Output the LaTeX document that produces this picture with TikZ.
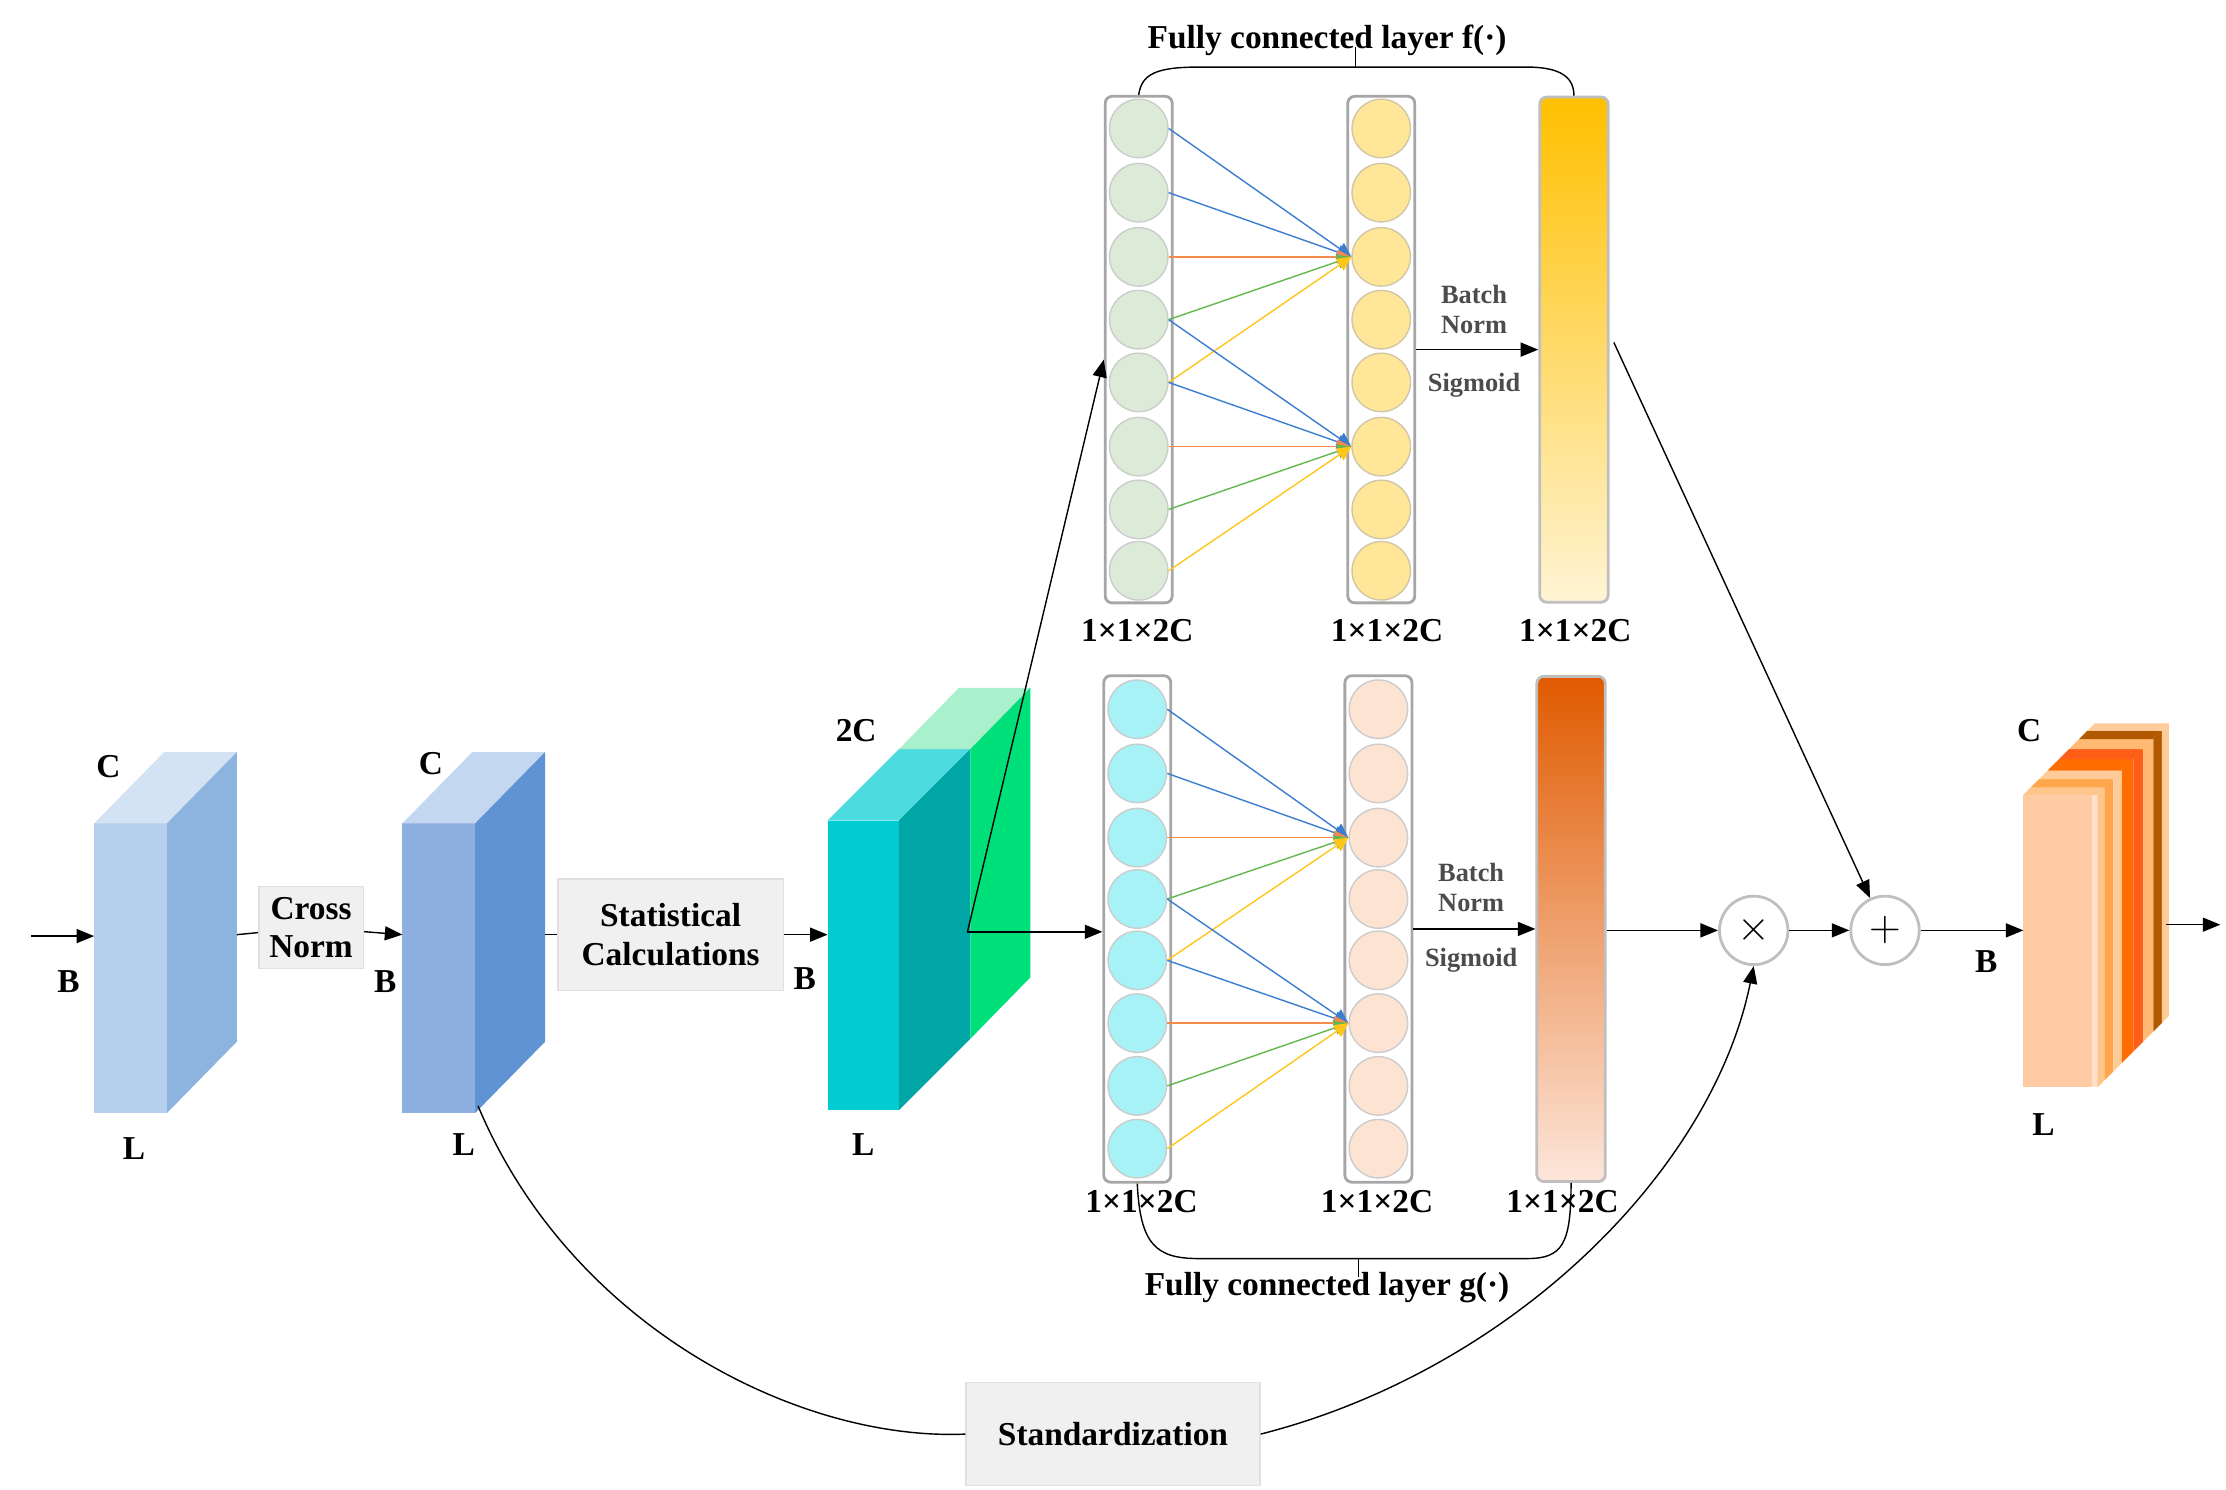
\documentclass[tikz,border=0pt]{standalone}
\usepackage{fontspec}
\setmainfont{Liberation Serif}
\usetikzlibrary{arrows.meta, positioning, calc}
\definecolor{inblue}{HTML}{B4D0EC}
\definecolor{inblueside}{HTML}{8DB4DF}
\definecolor{inbluetop}{HTML}{D3E3F4}
\definecolor{cnblue}{HTML}{8EB0E0}
\definecolor{cnblueside}{HTML}{5F93D3}
\definecolor{cnbluetop}{HTML}{C4D7F0}
\definecolor{stcyan}{HTML}{00CCD2}
\definecolor{stteal}{HTML}{00A6A6}
\definecolor{stgreen}{HTML}{00E07A}
\definecolor{stgreenlt}{HTML}{A9F0CC}
\definecolor{nodegreen}{HTML}{DCEBD8}
\definecolor{nodeyellow}{HTML}{FFE699}
\definecolor{nodecyan}{HTML}{A6F2F6}
\definecolor{nodepeach}{HTML}{FDE3D2}
\definecolor{lnblue}{HTML}{3C7DD0}
\definecolor{lnorange}{HTML}{F58A4B}
\definecolor{lngreen}{HTML}{62B84E}
\definecolor{lnyellow}{HTML}{FFC61A}
\definecolor{outpeach}{HTML}{FFCBA4}
\definecolor{fbartop}{HTML}{FFC000}
\definecolor{fbarbot}{HTML}{FFF4D4}
\definecolor{gbartop}{HTML}{E05A00}
\definecolor{gbarbot}{HTML}{FDE6DA}
\newcommand\pxu{0.01427cm}

\begin{document}
\begin{tikzpicture}[x=0.01427cm, y=-0.01427cm,
        lbl/.style={font=\fontsize{9.5}{10}\selectfont\bfseries, inner sep=1pt},
        small/.style={font=\fontsize{7.5}{8.5}\selectfont\bfseries, text=black!70, align=center, inner sep=1pt},
        graybox/.style={draw=black!12, fill=black!6, font=\fontsize{9.5}{11}\selectfont\bfseries, align=center},
        column/.style={draw=black!35, thick, rounded corners=2pt, minimum width=47*\pxu, minimum height=355*\pxu, inner sep=0},
        neuron/.style={circle, draw=black!20, minimum size=41*\pxu, inner sep=0},
        bar/.style={draw=black!25, thick, rounded corners=2pt, minimum width=48*\pxu, minimum height=354*\pxu, inner sep=0},
        op/.style={circle, draw=black!25, thick, fill=white, minimum size=48*\pxu, inner sep=0, font=\large},
        arr/.style={-{Triangle[length=5pt, width=4pt]}, thin},
        fc/.style={-{Triangle[length=4pt, width=4pt]}, thin}
      ]
        \useasboundingbox (0,0) rectangle (1560,1044);

        % input block
        \fill[inblue] (66,577) rectangle (117,780);
        \fill[inbluetop] (66,577) -- (117,577) -- (166,527) -- (115,527) -- cycle;
        \fill[inblueside] (117,577) -- (166,527) -- (166,730) -- (117,780) -- cycle;
        \coordinate (inL) at (66,656);
        \coordinate (inR) at (166,655);
        \coordinate (src) at (22,656);
        \node[lbl] at (76,537) {C};
        \node[lbl] at (94,805) {L};
        \node[lbl] at (48,688) {B};
        \draw[arr] (src) -- (inL);

        % cross norm block
        \fill[cnblue] (282,577) rectangle (333,780);
        \fill[cnbluetop] (282,577) -- (333,577) -- (382,527) -- (331,527) -- cycle;
        \fill[cnblueside] (333,577) -- (382,527) -- (382,730) -- (333,780) -- cycle;
        \coordinate (cnL) at (282,655);
        \coordinate (cnR) at (382,655);
        \coordinate (cnB) at (335,775);
        \node[lbl] at (302,535) {C};
        \node[lbl] at (325,802) {L};
        \node[lbl] at (270,688) {B};
        \node[graybox, inner sep=3pt] (cross) at (218,650) {Cross\\Norm};
        \draw (inR) -- (cross);
        \draw[arr] (cross) -- (cnL);

        % statistics block
        \fill[stcyan] (580,575) rectangle (630,778);
        \fill[stcyan!70!white] (580,575) -- (630,575) -- (680,525) -- (630,525) -- cycle;
        \fill[stteal] (630,575) -- (680,525) -- (680,728) -- (630,778) -- cycle;
        \fill[stgreenlt] (630,525) -- (680,525) -- (722,482) -- (672,482) -- cycle;
        \fill[stgreen] (680,525) -- (722,482) -- (722,685) -- (680,728) -- cycle;
        \coordinate (stL) at (580,655);
        \coordinate (stO) at (678,653);
        \node[lbl] at (600,512) {2C};
        \node[lbl] at (605,802) {L};
        \node[lbl] at (564,686) {B};
        \node[graybox, minimum width=158*\pxu, minimum height=78*\pxu] (stat) at (470,655) {Statistical\\Calculations};
        \draw (cnR) -- (stat);
        \draw[arr] (stat) -- (stL);

        % fully connected layer f
        \node[column] (fa) at (798,245) {};
        \node[column] (fb) at (968,245) {};
        \foreach \i/\y in {1/90,2/135,3/180,4/224,5/268,6/313,7/357,8/400} {
          \node[neuron, fill=nodegreen] (fa\i) at (798,\y) {};
          \node[neuron, fill=nodeyellow, draw=nodeyellow!70!black!60] (fb\i) at (968,\y) {};
        }
        \node[bar, top color=fbartop, bottom color=fbarbot] (fbar) at (1103,245) {};
        \node[lbl] at (797,442) {1×1×2C};
        \node[lbl] at (972,442) {1×1×2C};
        \node[lbl] at (1104,442) {1×1×2C};

        % fully connected layer g
        \node[column] (ga) at (797,651) {};
        \node[column] (gb) at (966,651) {};
        \foreach \i/\y in {1/497,2/542,3/587,4/630,5/673,6/717,7/761,8/805} {
          \node[neuron, fill=nodecyan] (ga\i) at (797,\y) {};
          \node[neuron, fill=nodepeach] (gb\i) at (966,\y) {};
        }
        \node[bar, top color=gbartop, bottom color=gbarbot] (gbar) at (1101,651) {};
        \node[lbl] at (800,842) {1×1×2C};
        \node[lbl] at (965,842) {1×1×2C};
        \node[lbl] at (1095,842) {1×1×2C};

        % connections between neurons
        \foreach \l in {f,g} {
          \foreach \s/\t/\c in {1/3/lnblue,2/3/lnblue,3/3/lnorange,4/3/lngreen,5/3/lnyellow,
                                4/6/lnblue,5/6/lnblue,6/6/lnorange,7/6/lngreen,8/6/lnyellow} {
            \draw[fc, \c] (\l a\s.east) -- (\l b\t.west);
          }
        }

        % batch norm and sigmoid
        \draw[arr] (fb) -- (fbar);
        \node[small] at (1033,217) {Batch\\Norm};
        \node[small] at (1033,270) {Sigmoid};
        \draw[arr] (gb) -- (gbar);
        \node[small] at (1031,622) {Batch\\Norm};
        \node[small] at (1031,673) {Sigmoid};

        % brackets
        \draw (fa.north) .. controls (800,52) and (810,47) .. (840,47) -- (1070,47)
              .. controls (1095,47) and (1103,55) .. (fbar.north);
        \draw (950,47) -- (950,33);
        \node[lbl] at (930,28) {Fully connected layer f(·)};
        \draw (ga.south) .. controls (799,872) and (810,882) .. (840,882) -- (1070,882)
              .. controls (1095,882) and (1101,872) .. (gbar.south);
        \draw (952,882) -- (952,895);
        \node[lbl] at (930,902) {Fully connected layer g(·)};

        \draw[arr] (stO) -- (ga.west |- stO);
        \draw[arr] (stO) -- (fa.west |- 0,252);

        % fusion
        \node[op] (mul) at (1229,652) {$\times$};
        \node[op] (add) at (1321,652) {$+$};
        \draw[arr] (gbar.east |- mul) -- (mul);
        \draw[arr] (mul) -- (add);
        \draw[arr] (1131,240) -- (add);

        % standardization
        \node[graybox, minimum width=206*\pxu, minimum height=72*\pxu] (std) at (780,1005) {Standardization};
        \draw (cnB) .. controls (400,930) and (560,1010) .. (std.west);
        \draw[arr] (std.east) .. controls (1060,960) and (1200,820) .. (mul.south);

        % output block
        \fill[outpeach] (1418,557) rectangle (1468,762);
        \fill[white!40!outpeach] (1466,557) rectangle (1470,762);
        \foreach \a/\b/\c in {0/0.1/orange!45, 0.1/0.22/orange!70, 0.22/0.34/orange!40,
                              0.34/0.5/orange!85!red, 0.5/0.64/orange!60!red!90,
                              0.64/0.78/orange!55, 0.78/0.9/orange!70!black, 0.9/1/orange!40} {
          \fill[\c] ({1470+50*\a},{557-50*\a}) -- ({1470+50*\b},{557-50*\b}) -- ({1470+50*\b},{762-50*\b}) -- ({1470+50*\a},{762-50*\a}) -- cycle;
          \fill[\c] ({1418+50*\a},{557-50*\a}) -- ({1418+50*\b},{557-50*\b}) -- ({1470+50*\b},{557-50*\b}) -- ({1470+50*\a},{557-50*\a}) -- cycle;
        }
        \coordinate (outL) at (1418,652);
        \coordinate (outR) at (1518,648);
        \coordinate (dst) at (1556,648);
        \node[lbl] at (1422,512) {C};
        \node[lbl] at (1432,788) {L};
        \node[lbl] at (1392,674) {B};
        \draw[arr] (add) -- (outL);
        \draw[arr] (outR) -- (dst);
      \end{tikzpicture}
\end{document}
